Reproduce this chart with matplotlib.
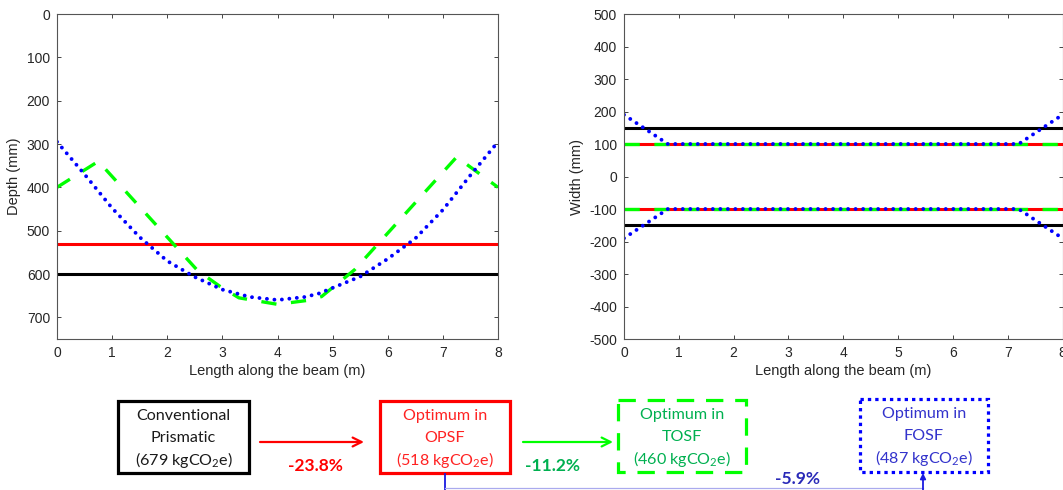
import matplotlib
matplotlib.use("Agg")
import matplotlib.pyplot as plt
from matplotlib.patches import Rectangle
import numpy as np

plt.rcParams['lines.scale_dashes'] = False
plt.rcParams['axes.unicode_minus'] = False
plt.rcParams['mathtext.fontset'] = 'custom'
plt.rcParams['mathtext.rm'] = 'Lato'
plt.rcParams['mathtext.it'] = 'Lato'

# ---------------- data ----------------
beam_x = [0, 8]
depth_conventional = 600
depth_opsf = 530
tosf_x = [0, 0.75, 2.55, 2.95, 3.3, 4.0, 4.6, 4.8, 5.4, 7.25, 8]
tosf_depth = [400, 340, 592, 628, 655, 670, 660, 652, 590, 330, 400]
fosf_x = [0, 0.5, 1, 1.5, 2, 2.5, 3, 3.5, 4, 4.5, 4.75, 5, 5.5, 6, 6.5, 7, 7.5, 8]
fosf_depth = [295, 370, 448, 515, 570, 607, 636, 653, 660, 653, 645, 632, 606, 565, 518, 452, 372, 295]

halfwidth_conventional = 150
halfwidth_opsf = 100
halfwidth_tosf = 100
fosf_w_x = [0, 0.8, 7.2, 8]
fosf_halfwidth = [190, 100, 100, 190]

x_ticks = list(range(0, 9))
depth_ticks = list(range(0, 701, 100))
width_ticks = list(range(-500, 501, 100))

box_titles = [["Conventional", "Prismatic"], ["Optimum in", "OPSF"],
              ["Optimum in", "TOSF"], ["Optimum in", "FOSF"]]
box_carbon = [679, 518, 460, 487]
reductions = ["-23.8%", "-11.2%", "-5.9%"]

# ---------------- figure ----------------
W, H = 1063, 490
fig = plt.figure(figsize=(W / 100, H / 100), dpi=100)

def ax_rect(l, t, w, h):
    return [l / W, 1 - (t + h) / H, w / W, h / H]

RED, GREEN, BLUE, BLACK = '#ff0000', '#00ff00', '#0000ff', '#000000'
green_dash = (0, (11, 10.5))
blue_dot = (0, (0.01, 5.4))

def style_axes(ax):
    ax.tick_params(direction='in', length=3, top=True, right=True,
                   colors='#262626', labelsize=10, width=0.6, pad=5)
    for s in ax.spines.values():
        s.set_color('#555555')
        s.set_linewidth(0.8)
    for lab in ax.get_xticklabels() + ax.get_yticklabels():
        lab.set_fontfamily('Liberation Sans')

# Left: depth
ax1 = fig.add_axes(ax_rect(57, 14, 441, 325))
ax1.plot(beam_x, [depth_conventional] * 2, color=BLACK, lw=2.2)
ax1.plot(beam_x, [depth_opsf] * 2, color=RED, lw=2.2)
ax1.plot(tosf_x, tosf_depth, color=GREEN, lw=2.4, linestyle=green_dash)
ax1.plot(fosf_x, fosf_depth, color=BLUE, lw=2.8, linestyle=blue_dot,
         dash_capstyle='round')
ax1.set_xlim(0, 8)
ax1.set_ylim(750, 0)
ax1.set_xticks(x_ticks)
ax1.set_yticks(depth_ticks)
style_axes(ax1)
ax1.set_xlabel("Length along the beam (m)", fontsize=10.5,
               fontfamily='Liberation Sans', color='#262626', labelpad=3)
ax1.set_ylabel("Depth (mm)", fontsize=10.5, fontfamily='Liberation Sans',
               color='#262626', labelpad=4)

# Right: width
ax2 = fig.add_axes(ax_rect(624, 14, 438.5, 325))
for sgn in (1, -1):
    ax2.plot(beam_x, [sgn * halfwidth_conventional] * 2, color=BLACK, lw=2.2)
    ax2.plot(beam_x, [sgn * halfwidth_opsf] * 2, color=RED, lw=2.2)
    ax2.plot(beam_x, [sgn * halfwidth_tosf] * 2, color=GREEN, lw=2.4,
             linestyle=green_dash)
    ax2.plot(fosf_w_x, [sgn * v for v in fosf_halfwidth], color=BLUE, lw=2.8,
             linestyle=blue_dot, dash_capstyle='round')
ax2.set_xlim(0, 8)
ax2.set_ylim(-500, 500)
ax2.set_xticks(x_ticks)
ax2.set_yticks(width_ticks)
style_axes(ax2)
ax2.set_xlabel("Length along the beam (m)", fontsize=10.5,
               fontfamily='Liberation Sans', color='#262626', labelpad=3)
ax2.set_ylabel("Width (mm)", fontsize=10.5, fontfamily='Liberation Sans',
               color='#262626', labelpad=4)

# ---------------- diagram (pixel overlay) ----------------
ov = fig.add_axes([0, 0, 1, 1])
ov.set_xlim(0, W)
ov.set_ylim(H, 0)
ov.axis('off')
ov.patch.set_alpha(0)

boxes = [  # (left, top, right, bottom, edgecolor, textcolor, linestyle)
    (118, 401, 249, 473, '#000000', '#1a1a1a', '-'),
    (380, 401, 510, 473, '#ff0000', '#ff2222', '-'),
    (618, 400, 746, 472, '#00ff00', '#00b050', (0, (12.5, 8.5))),
    (860, 399, 988, 472, '#0000ff', '#3333cc', (0, (2.4, 2.9))),
]
FS = 11.6
for (l, t, r, b, ec, tc, ls), title, c in zip(boxes, box_titles, box_carbon):
    ov.add_patch(Rectangle((l, t), r - l, b - t, fill=False, edgecolor=ec,
                           lw=2.3, linestyle=ls, joinstyle='miter'))
    cx = (l + r) / 2
    ys = [t + 15, t + 37, t + 59]
    ov.text(cx, ys[0], title[0], ha='center', va='center', fontsize=FS,
            fontfamily='Lato', color=tc)
    ov.text(cx, ys[1], title[1], ha='center', va='center', fontsize=FS,
            fontfamily='Lato', color=tc)
    ov.text(cx, ys[2], "(%d kgCO$_2$e)" % c, ha='center', va='center',
            fontsize=FS, fontfamily='Lato', color=tc)

# arrows
ov.annotate("", xy=(364, 442), xytext=(260, 442),
            arrowprops=dict(arrowstyle='->', color='#ff0000', lw=1.6,
                            mutation_scale=16, shrinkA=0, shrinkB=0))
ov.annotate("", xy=(613, 442), xytext=(523, 442),
            arrowprops=dict(arrowstyle='->', color='#00ff00', lw=1.6,
                            mutation_scale=16, shrinkA=0, shrinkB=0))
ov.plot([445, 445], [474, 491], color='#1a1ae0', lw=1.3)
ov.plot([445, 923], [488, 488], color='#aaaaee', lw=0.9)
ov.annotate("", xy=(923, 473), xytext=(923, 491),
            arrowprops=dict(arrowstyle='-|>', color='#1a1ae0', lw=1.3,
                            mutation_scale=8, shrinkA=0, shrinkB=0))

PS = 12.5
ov.text(315, 466, reductions[0], ha='center', va='center', fontsize=PS,
        fontweight='bold', fontfamily='Lato', color='#ff0000')
ov.text(553, 466, reductions[1], ha='center', va='center', fontsize=PS,
        fontweight='bold', fontfamily='Lato', color='#00b050')
ov.text(797, 479, reductions[2], ha='center', va='center', fontsize=PS,
        fontweight='bold', fontfamily='Lato', color='#2a2ab8')

fig.savefig("out.png", dpi=100)
